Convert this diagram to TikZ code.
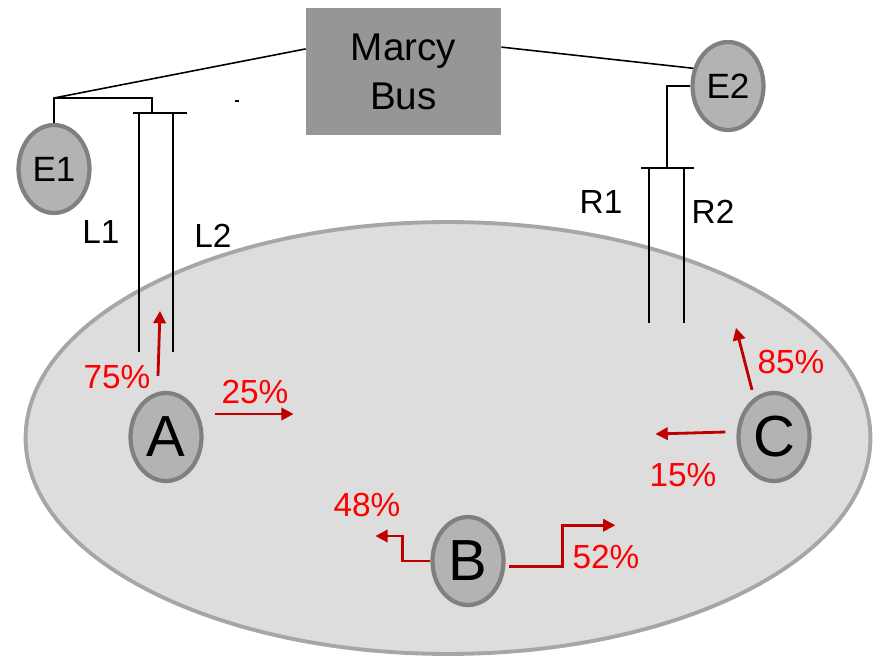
\documentclass[tikz,border=0pt]{standalone}
\usepackage{fontspec}
\setmainfont{Liberation Sans}
\usetikzlibrary{arrows.meta,shapes.geometric,calc}
\definecolor{zonegray}{HTML}{DDDDDD}
\definecolor{zoneline}{HTML}{A6A6A6}
\definecolor{nodegray}{HTML}{B3B3B3}
\definecolor{nodeline}{HTML}{808080}
\definecolor{busgray}{HTML}{969696}
\definecolor{flowred}{HTML}{C00000}
\definecolor{pctred}{HTML}{FF0000}
\tikzset{
  station/.style={ellipse, draw=nodeline, fill=nodegray, line width=2.4pt, inner sep=0pt,
    minimum width=1.42cm, minimum height=1.76cm, font=\fontsize{20}{24}\selectfont},
  letter/.style={station, font=\fontsize{33}{36}\selectfont},
  wire/.style={black, line width=0.9pt},
  flow/.style={flowred, line width=1.6pt, -{Triangle[length=7pt,width=7pt]}},
  pct/.style={pctred, font=\fontsize{19}{22}\selectfont},
  tag/.style={black, font=\fontsize{19}{22}\selectfont}
}
\begin{document}
\begin{tikzpicture}[x=0.02cm, y=-0.02cm]
        \useasboundingbox (0,0) rectangle (874,658);

        % Gebiet
        \node[ellipse, draw=zoneline, fill=zonegray, line width=2.2pt, inner sep=0pt,
          minimum width=16.9cm, minimum height=8.64cm] (zone) at (448,438) {};

        % Bus
        \node[fill=busgray, minimum width=3.9cm, minimum height=2.54cm, align=center,
          font=\fontsize{22}{28}\selectfont] (bus) at (403.5,71.5) {Marcy\\Bus};

        % Knoten
        \node[station] (e1) at (54,169) {E1};
        \node[station] (e2) at (728,86) {E2};
        \node[letter] (a) at (166,437) {A};
        \node[letter] (b) at (468,561) {B};
        \node[letter] (c) at (774,437) {C};

        % Leitungen links
        \coordinate (lj) at (54,98);
        \coordinate (lt) at (152,113);
        \coordinate (l1top) at (139,113);
        \coordinate (l2top) at (173,113);
        \draw[wire] (bus.167) -- (lj) -- (e1.north);
        \draw[wire] (lj) -- (lj -| lt) -- (lt);
        \draw[wire] (133,113) -- (187,113);
        \draw[wire] (l1top) -- (139,352);
        \draw[wire] (l2top) -- (173,352);
        \draw[wire] (235,101) -- (239,101);

        % Leitungen rechts
        \coordinate (rt) at (667,168);
        \coordinate (r1top) at (649,168);
        \coordinate (r2top) at (684,168);
        \draw[wire] (bus.14) -- (e2.153);
        \draw[wire] (e2.west) -- (e2.west -| rt) -- (rt);
        \draw[wire] (641,168) -- (694,168);
        \draw[wire] (r1top) -- (649,323);
        \draw[wire] (r2top) -- (684,323);

        % Pfeile
        \draw[flow] ($(a.north)+(-8,-15)$) -- ++(2,-65);
        \draw[flow] ($(a.east)+(11,-23)$) -- ++(79,0);
        \draw[flow] (b.west) -- ++(-28,0) -- ++(0,-25) -- ++(-27,0);
        \draw[flow] ($(b.-8)+(4,0)$) -- ++(53,0) -- ++(0,-41) -- ++(53,0);
        \draw[flow] ($(c.north)+(-22,-1)$) -- ++(-16,-62);
        \draw[flow] ($(c.west)+(-11,-5)$) -- ++(-70,2);

        % Texte
        \node[tag] (l1) at (101,232) {L1};
        \node[tag] (l2) at (213,236) {L2};
        \node[tag] (r1) at (601,202) {R1};
        \node[tag] (r2) at (713,212) {R2};
        \node[pct] (p75) at (117,377) {75\%};
        \node[pct] (p25) at (255,392) {25\%};
        \node[pct] (p48) at (367,505) {48\%};
        \node[pct] (p52) at (606,557) {52\%};
        \node[pct] (p85) at (791,362) {85\%};
        \node[pct] (p15) at (683,475) {15\%};

    \end{tikzpicture}
\end{document}
